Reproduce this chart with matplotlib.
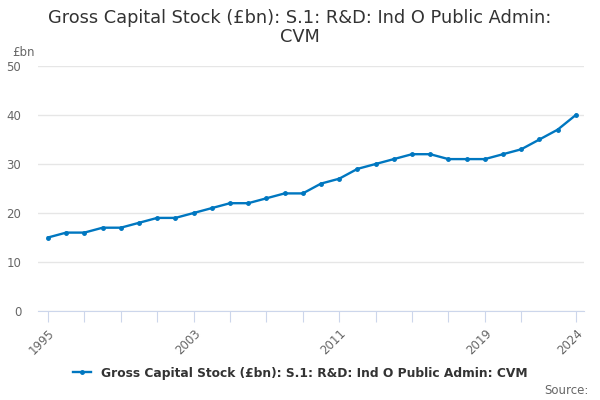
import matplotlib
matplotlib.use("Agg")
import matplotlib.pyplot as plt

years = list(range(1995, 2025))
values = [15, 16, 16, 17, 17, 18, 19, 19, 20, 21,
          22, 22, 23, 24, 24, 26, 27, 29, 30, 31,
          32, 32, 31, 31, 31, 32, 33, 35, 37, 40]
tick_years = list(range(1995, 2022, 2)) + [2024]
label_years = [1995, 2003, 2011, 2019, 2024]
series_name = 'Gross Capital Stock (£bn): S.1: R&D: Ind O Public Admin: CVM'

plt.rcParams['font.family'] = 'DejaVu Sans'
fig = plt.figure(figsize=(6, 4), dpi=100)
ax = fig.add_axes([38/600, 1 - 311/400, (584-38)/600, (311-66)/400])

line, = ax.plot(years, values, color='#0077c0', linewidth=1.7, marker='o', markersize=2.5)

ax.set_xlim(1994.45, 2024.45)
ax.set_ylim(0, 50)
ax.set_yticks([0, 10, 20, 30, 40, 50])
ax.grid(axis='y', color='#e6e6e6', linewidth=1)
ax.set_axisbelow(True)
ax.set_xticks(tick_years)
ax.set_xticklabels([str(y) if y in label_years else '' for y in tick_years],
                   rotation=45, ha='right', rotation_mode='anchor')
ax.tick_params(axis='x', length=8, color='#ccd6eb', labelcolor='#666666', labelsize=8.5)
ax.tick_params(axis='y', length=0, labelcolor='#666666', labelsize=8.5, pad=12)
for side in ['top', 'right', 'left']:
    ax.spines[side].set_visible(False)
ax.spines['bottom'].set_color('#ccd6eb')

fig.text(0.5, 0.978, 'Gross Capital Stock (£bn): S.1: R&D: Ind O Public Admin:\nCVM',
         ha='center', va='top', fontsize=12.8, color='#333333', linespacing=1.1)
fig.text(12/600, 1 - 52/400, '£bn', fontsize=8.5, color='#666666', va='center')

fig.legend([line], [series_name], loc='center', bbox_to_anchor=(0.5, 1 - 373/400),
           frameon=False, prop={'size': 8.8, 'weight': 'bold'}, handlelength=1.5,
           labelcolor='#333333')
fig.text(589/600, 1 - 390/400, 'Source:', ha='right', va='center', fontsize=8.5, color='#666666')

fig.savefig('out.png', dpi=100)
